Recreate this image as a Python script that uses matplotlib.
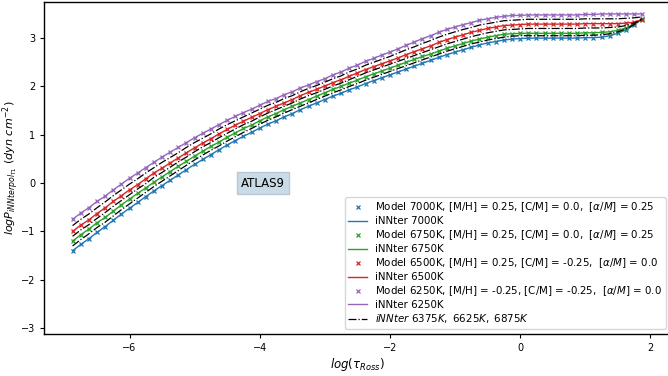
import matplotlib
matplotlib.use("Agg")
import matplotlib.pyplot as plt

# log(tau_Ross) grid, -6.875 .. 1.875 step 0.125 (71 layers)
tau = [-6.875 + 0.125 * i for i in range(71)]

# ---------- values ----------
p7000 = [-1.40, -1.27, -1.15, -1.02, -0.90, -0.77, -0.64, -0.52, -0.40, -0.28,
         -0.16, -0.05, 0.06, 0.17, 0.28, 0.39, 0.49, 0.59, 0.69, 0.79,
         0.88, 0.97, 1.05, 1.14, 1.22, 1.29, 1.37, 1.44, 1.52, 1.59,
         1.66, 1.73, 1.80, 1.86, 1.93, 1.99, 2.06, 2.12, 2.18, 2.24,
         2.30, 2.36, 2.42, 2.48, 2.54, 2.60, 2.66, 2.71, 2.76, 2.81,
         2.86, 2.90, 2.93, 2.96, 2.98, 2.99, 3.00, 3.00, 3.00, 3.00,
         3.00, 3.00, 3.00, 3.01, 3.01, 3.02, 3.05, 3.10, 3.17, 3.27, 3.40]

p6750 = [-1.20, -1.07, -0.95, -0.82, -0.71, -0.58, -0.45, -0.33, -0.21, -0.10,
         0.02, 0.13, 0.24, 0.35, 0.45, 0.56, 0.66, 0.76, 0.85, 0.95,
         1.04, 1.13, 1.20, 1.29, 1.37, 1.44, 1.52, 1.59, 1.66, 1.73,
         1.80, 1.87, 1.94, 2.00, 2.07, 2.13, 2.20, 2.26, 2.32, 2.38,
         2.44, 2.50, 2.56, 2.62, 2.67, 2.73, 2.79, 2.84, 2.89, 2.94,
         2.98, 3.02, 3.05, 3.08, 3.09, 3.10, 3.10, 3.10, 3.10, 3.10,
         3.10, 3.10, 3.10, 3.11, 3.11, 3.12, 3.13, 3.16, 3.21, 3.29, 3.40]

p6500 = [-1.00, -0.87, -0.76, -0.63, -0.51, -0.38, -0.26, -0.14, -0.03, 0.09,
         0.21, 0.31, 0.42, 0.52, 0.63, 0.73, 0.83, 0.92, 1.02, 1.11,
         1.20, 1.28, 1.36, 1.44, 1.52, 1.59, 1.66, 1.73, 1.81, 1.88,
         1.94, 2.01, 2.08, 2.14, 2.21, 2.28, 2.35, 2.41, 2.47, 2.53,
         2.59, 2.66, 2.72, 2.78, 2.84, 2.91, 2.97, 3.02, 3.07, 3.12,
         3.16, 3.20, 3.23, 3.26, 3.27, 3.28, 3.29, 3.29, 3.29, 3.29,
         3.29, 3.29, 3.29, 3.30, 3.30, 3.30, 3.30, 3.30, 3.31, 3.33, 3.38]

p6250 = [-0.75, -0.62, -0.51, -0.38, -0.27, -0.14, -0.02, 0.10, 0.21, 0.32,
         0.43, 0.54, 0.64, 0.74, 0.84, 0.94, 1.03, 1.12, 1.21, 1.30,
         1.38, 1.46, 1.53, 1.61, 1.69, 1.75, 1.83, 1.89, 1.97, 2.03,
         2.10, 2.16, 2.24, 2.30, 2.38, 2.44, 2.52, 2.58, 2.65, 2.71,
         2.78, 2.85, 2.92, 2.99, 3.05, 3.12, 3.18, 3.23, 3.28, 3.32,
         3.37, 3.40, 3.43, 3.45, 3.47, 3.47, 3.48, 3.48, 3.48, 3.48,
         3.48, 3.48, 3.48, 3.49, 3.49, 3.50, 3.50, 3.50, 3.50, 3.50, 3.50]

# intermediate temperatures (dash-dot)
p6875 = [-1.30, -1.17, -1.05, -0.92, -0.81, -0.68, -0.55, -0.43, -0.31, -0.19,
         -0.07, 0.04, 0.15, 0.26, 0.37, 0.48, 0.58, 0.68, 0.77, 0.87,
         0.96, 1.05, 1.13, 1.22, 1.30, 1.37, 1.45, 1.52, 1.59, 1.66,
         1.73, 1.80, 1.87, 1.93, 2.00, 2.06, 2.13, 2.19, 2.25, 2.31,
         2.37, 2.43, 2.49, 2.55, 2.61, 2.67, 2.73, 2.78, 2.83, 2.88,
         2.92, 2.96, 2.99, 3.02, 3.04, 3.05, 3.05, 3.05, 3.05, 3.05,
         3.05, 3.05, 3.05, 3.06, 3.06, 3.07, 3.09, 3.13, 3.19, 3.28, 3.40]

p6625 = [-1.10, -0.97, -0.86, -0.73, -0.61, -0.48, -0.36, -0.24, -0.12, -0.01,
         0.12, 0.22, 0.33, 0.44, 0.54, 0.65, 0.75, 0.84, 0.94, 1.03,
         1.12, 1.21, 1.28, 1.37, 1.45, 1.52, 1.59, 1.66, 1.74, 1.81,
         1.87, 1.94, 2.01, 2.07, 2.14, 2.21, 2.28, 2.34, 2.40, 2.46,
         2.52, 2.58, 2.64, 2.70, 2.76, 2.82, 2.88, 2.93, 2.98, 3.03,
         3.07, 3.11, 3.14, 3.17, 3.18, 3.19, 3.20, 3.20, 3.20, 3.20,
         3.20, 3.20, 3.20, 3.21, 3.21, 3.21, 3.22, 3.23, 3.26, 3.31, 3.39]

p6375 = [-0.88, -0.75, -0.64, -0.51, -0.39, -0.26, -0.14, -0.02, 0.09, 0.21,
         0.32, 0.43, 0.53, 0.63, 0.74, 0.84, 0.93, 1.02, 1.12, 1.21,
         1.29, 1.37, 1.45, 1.53, 1.61, 1.67, 1.75, 1.81, 1.89, 1.96,
         2.02, 2.09, 2.16, 2.22, 2.30, 2.36, 2.44, 2.50, 2.56, 2.62,
         2.69, 2.76, 2.82, 2.89, 2.95, 3.02, 3.08, 3.13, 3.18, 3.22,
         3.27, 3.30, 3.33, 3.36, 3.37, 3.38, 3.39, 3.39, 3.39, 3.39,
         3.39, 3.39, 3.39, 3.40, 3.40, 3.40, 3.40, 3.40, 3.41, 3.42, 3.44]

models = [
    ("7000K", "[M/H] = 0.25, [C/M] = 0.0,  [$\\alpha/M$] = 0.25", p7000, "C0"),
    ("6750K", "[M/H] = 0.25, [C/M] = 0.0,  [$\\alpha/M$] = 0.25", p6750, "C2"),
    ("6500K", "[M/H] = 0.25, [C/M] = -0.25,  [$\\alpha/M$] = 0.0", p6500, "C3"),
    ("6250K", "[M/H] = -0.25, [C/M] = -0.25,  [$\\alpha/M$] = 0.0", p6250, "C4"),
]
interp = [p6375, p6625, p6875]

# ---------- figure ----------
fig = plt.figure(figsize=(6.68, 3.76), dpi=100)
ax = fig.add_axes([0.066, 0.112, 0.938, 0.883])

for teff, abund, vals, col in models:
    ax.plot(tau, vals, "x", color=col, ms=3.5, mew=0.9,
            label=f"Model {teff}, {abund}")
    ax.plot(tau, vals, "-", color=col, lw=1.0, label=f"iNNter {teff}")

for k, vals in enumerate(interp):
    ax.plot(tau, vals, "k-.", lw=0.9,
            label=r"$iNNter\ 6375K,\ 6625K,\ 6875K$" if k == 0 else None)

ax.text(-3.95, 0.0, "ATLAS9", fontsize=8.5, ha="center", va="center",
        bbox=dict(facecolor="#cadbe8", edgecolor="#b8c8d6", pad=3))

ax.set_ylim(-3.12, 3.75)
ax.set_yticks([-3, -2, -1, 0, 1, 2, 3])
ax.set_xticks([-6, -4, -2, 0, 2])
ax.tick_params(labelsize=7, length=3, width=0.8)
ax.set_xlabel(r"$log(\tau_{Ross})$", fontsize=8.5, labelpad=2)
ax.set_ylabel(r"$logP_{iNNterpol_{T1}}\ (dyn\ cm^{-2})$", fontsize=8, labelpad=0)
for s in ax.spines.values():
    s.set_linewidth(1.0)
ax.legend(loc="lower right", fontsize=7.4, borderaxespad=0.5,
          labelspacing=0.2, handlelength=1.8, borderpad=0.35)

fig.savefig("out.png", dpi=100)
